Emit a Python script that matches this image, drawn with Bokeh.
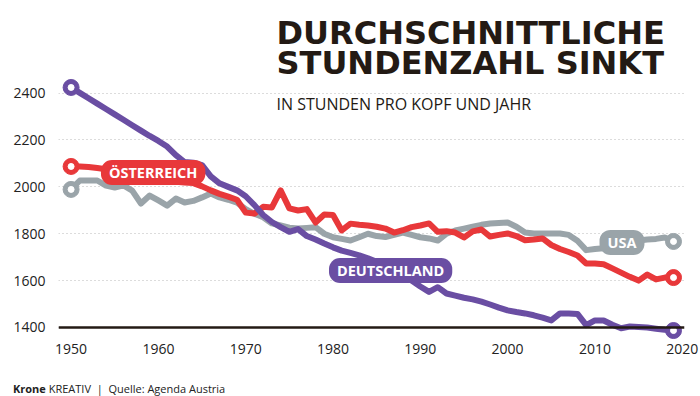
from bokeh.plotting import figure
from bokeh.models import Label, Span, FixedTicker, Range1d, Div
from bokeh.layouts import column
from bokeh.embed import file_html
from bokeh.resources import INLINE

years = list(range(1950, 2020))

deutschland = [2424, 2401, 2378, 2355, 2332, 2309, 2286, 2263, 2240, 2217,
               2196, 2172, 2135, 2106, 2103, 2093, 2045, 2015, 2000, 1985,
               1960, 1922, 1880, 1850, 1828, 1808, 1820, 1790, 1775, 1758,
               1742, 1728, 1718, 1708, 1695, 1680, 1660, 1640, 1620, 1600,
               1575, 1552, 1572, 1545, 1536, 1527, 1520, 1510, 1498, 1485,
               1473, 1466, 1460, 1452, 1442, 1430, 1460, 1460, 1458, 1410,
               1430, 1430, 1412, 1397, 1404, 1402, 1400, 1395, 1390, 1387]

oesterreich = [2087, 2087, 2085, 2080, 2075, 2068, 2060, 2052, 2045, 2038,
               2032, 2027, 2022, 2019, 2016, 2002, 1985, 1970, 1958, 1945,
               1890, 1886, 1915, 1912, 1985, 1908, 1899, 1905, 1848, 1882,
               1880, 1814, 1843, 1838, 1835, 1830, 1822, 1805, 1815, 1828,
               1835, 1844, 1808, 1811, 1805, 1784, 1810, 1818, 1788, 1795,
               1801, 1790, 1772, 1775, 1780, 1752, 1735, 1722, 1707, 1673,
               1673, 1670, 1652, 1634, 1616, 1600, 1626, 1605, 1613, 1613]

usa = [1989, 2027, 2027, 2027, 2005, 1997, 2006, 1984, 1929, 1963,
       1942, 1920, 1950, 1933, 1940, 1955, 1972, 1955, 1945, 1933,
       1905, 1885, 1870, 1844, 1835, 1826, 1822, 1825, 1828, 1800,
       1785, 1778, 1771, 1785, 1800, 1790, 1786, 1795, 1805, 1795,
       1785, 1780, 1771, 1800, 1814, 1822, 1830, 1838, 1844, 1846,
       1848, 1830, 1805, 1801, 1801, 1801, 1801, 1795, 1770, 1730,
       1735, 1738, 1750, 1758, 1765, 1771, 1775, 1778, 1784, 1767]

y_ticks = [1400, 1600, 1800, 2000, 2200, 2400]
x_ticks = [1950, 1960, 1970, 1980, 1990, 2000, 2010, 2020]

PURPLE = "#6a4ea3"
RED = "#e8383a"
GREY = "#9aa4a9"
DARK = "#231a14"

p = figure(width=700, height=372, output_backend="svg", toolbar_location=None,
           x_range=Range1d(1948.557, 2020.26), y_range=Range1d(1344.5, 2795.0),
           min_border_left=58, min_border_right=16, min_border_top=0,
           min_border_bottom=32)
p.outline_line_color = None
p.background_fill_color = "white"

for ax in (p.xaxis[0], p.yaxis[0]):
    ax.axis_line_color = None
    ax.major_tick_line_color = None
    ax.minor_tick_line_color = None
    ax.major_tick_out = 0
    ax.major_tick_in = 0
    ax.minor_tick_out = 0
    ax.minor_tick_in = 0
    ax.major_label_text_font = "Open Sans"
    ax.major_label_text_font_size = "14px"
    ax.major_label_text_color = "#222222"
p.xaxis.ticker = FixedTicker(ticks=x_ticks)
p.yaxis.ticker = FixedTicker(ticks=y_ticks)
p.xaxis.major_label_standoff = 3
p.yaxis.major_label_standoff = 13

p.xgrid.grid_line_color = None
p.ygrid.ticker = FixedTicker(ticks=y_ticks)
p.ygrid.grid_line_color = "#b8b8b8"
p.ygrid.grid_line_dash = "1 3"
p.ygrid.grid_line_width = 1

p.add_layout(Span(location=y_ticks[0], dimension="width", line_color=DARK,
                  line_width=2.5))

for series, col in ((usa, GREY), (oesterreich, RED), (deutschland, PURPLE)):
    p.line(years, series, line_color=col, line_width=6, line_join="round",
           line_cap="round")
    ends_x = [years[0], years[-1]]
    ends_y = [series[0], series[-1]]
    p.scatter(ends_x, ends_y, size=16, fill_color=col, line_color=col)
    p.scatter(ends_x, ends_y, size=6, fill_color="white", line_color="white")

def pill(x, y, text, col):
    p.add_layout(Label(x=x, y=y, text=text, text_color="white",
                       text_font="Open Sans", text_font_style="bold",
                       text_font_size="14.5px", text_align="center",
                       text_baseline="middle", background_fill_color=col,
                       border_radius=11, padding=(8, 3)))

pill(1959.4, 2061, "ÖSTERREICH", RED)
pill(1986.6, 1643, "DEUTSCHLAND", PURPLE)
pill(2013.1, 1763, "USA", GREY)

def slabel(x, y, text, size, font, style="normal", color=DARK):
    p.add_layout(Label(x=x, y=y, x_units="screen", y_units="screen", text=text,
                       text_font=font, text_font_size=size,
                       text_font_style=style, text_color=color,
                       text_baseline="alphabetic", text_align="left"))

slabel(218, 308, "DURCHSCHNITTLICHE", "32px", "DejaVu Sans", "bold")
slabel(218, 278, "STUNDENZAHL SINKT", "32px", "DejaVu Sans", "bold")
slabel(218, 237, "IN STUNDEN PRO KOPF UND JAHR", "16px", "Open Sans")

footer = Div(
    text=('<div style="font-family:\'Open Sans\';font-size:11px;color:#222222;'
          'margin:4px 0 0 8px;line-height:15px;white-space:nowrap">'
          '<b>Krone</b> KREATIV&nbsp;&nbsp;|&nbsp;&nbsp;Quelle: Agenda Austria'
          '</div>'),
    width=700, height=24)

layout = column(p, footer, spacing=0)

open("out.html", "w").write(file_html(layout, INLINE))
